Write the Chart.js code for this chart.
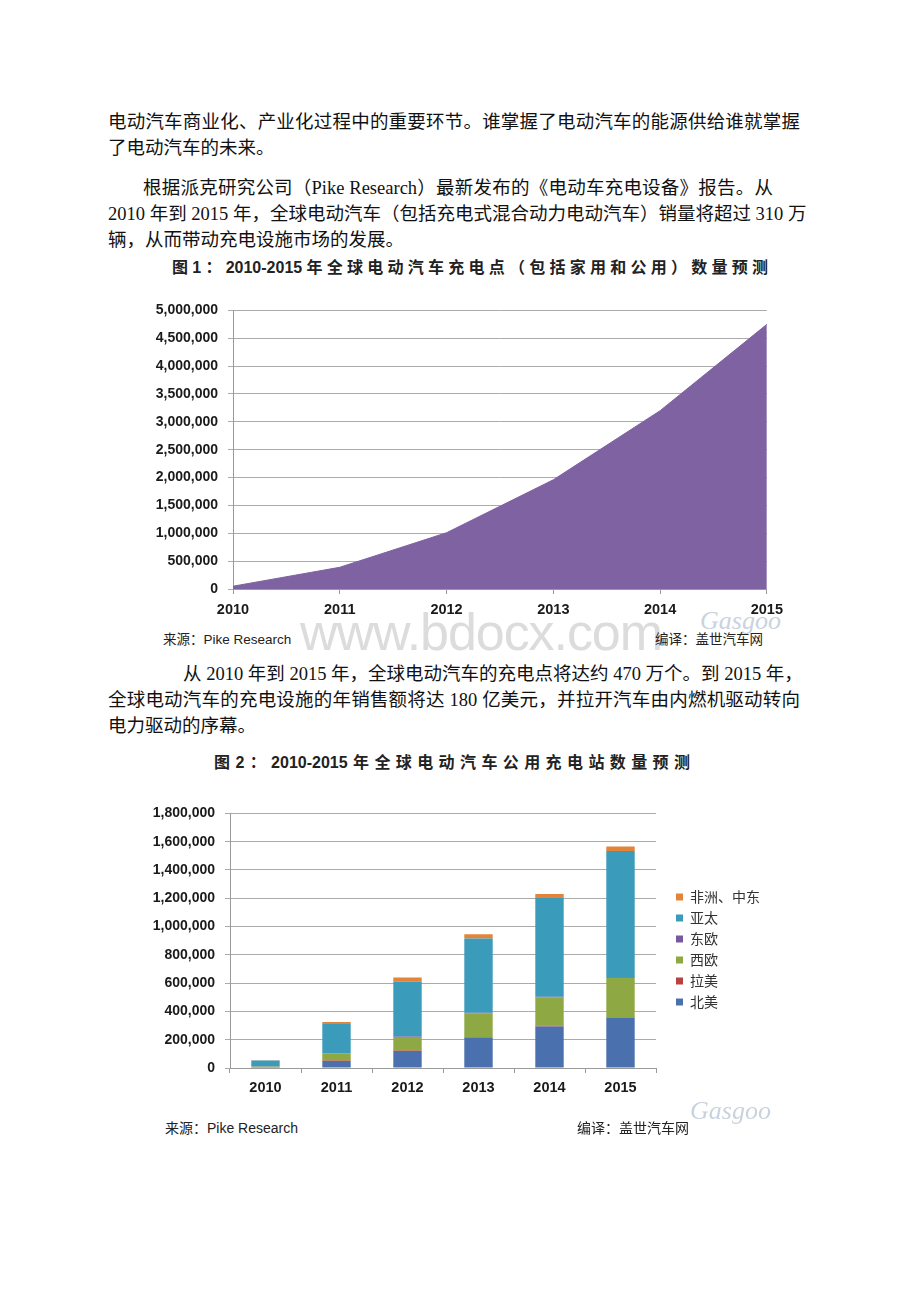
<!DOCTYPE html>
<html>
<head>
<meta charset="utf-8">
<script src="https://cdn.jsdelivr.net/npm/chart.js@4/dist/chart.umd.min.js"></script>
<style>
  body { margin: 0; width: 920px; height: 1302px; background: #fff; position: relative; overflow: hidden;
         font-family: 'Liberation Serif', 'Noto Sans CJK SC', serif; }
  .ln { position: absolute; font-size: 18.5px; line-height: 26px; color: #111; white-space: nowrap; }
  .j { text-align: justify; text-align-last: justify; }
  .ttl { position: absolute; font-family: 'Liberation Sans', 'Noto Sans CJK SC', sans-serif; font-weight: bold;
         font-size: 16px; line-height: 20px; color: #222; white-space: nowrap;
         text-align: justify; text-align-last: justify; }
  .src { position: absolute; font-family: 'Liberation Sans', 'Noto Sans CJK SC', sans-serif;
         font-size: 13.5px; line-height: 18px; color: #222; white-space: nowrap; }
  .wm { position: absolute; font-family: 'Liberation Sans', sans-serif; color: #dcdcdc; white-space: nowrap; }
  .logo { position: absolute; font-family: 'Liberation Serif', serif; color: #c9d3df; white-space: nowrap; }
  canvas { position: absolute; }
</style>
</head>
<body>

<div class="ln j" style="left:108px;top:109px;width:692px">电动汽车商业化、产业化过程中的重要环节。谁掌握了电动汽车的能源供给谁就掌握</div>
<div class="ln" style="left:108px;top:135px">了电动汽车的未来。</div>

<div class="ln j" style="left:143px;top:175px;width:630px">根据派克研究公司（Pike Research）最新发布的《电动车充电设备》报告。从</div>
<div class="ln j" style="left:108px;top:201px;width:692px">2010 年到 2015 年，全球电动汽车（包括充电式混合动力电动汽车）销量将超过 310 万</div>
<div class="ln" style="left:108px;top:227px">辆，从而带动充电设施市场的发展。</div>

<div class="ttl" style="left:172px;top:258px;width:596px">图1：2010-2015年全球电动汽车充电点（包括家用和公用）数量预测</div>

<div class="wm" data-w="362" style="left:300px;top:602px;font-size:52px;line-height:60px">www.bdocx.com</div>
<div class="logo" style="left:700px;top:606px;font-size:26px;font-style:italic">Gasgoo</div>

<canvas id="c1" width="650" height="333" style="left:140px;top:292px"></canvas>

<div class="src" style="left:163px;top:631px">来源：Pike Research</div>
<div class="src" style="left:655px;top:631px">编译：盖世汽车网</div>

<div class="ln j" style="left:183px;top:661px;width:617px">从 2010 年到 2015 年，全球电动汽车的充电点将达约 470 万个。到 2015 年，</div>
<div class="ln j" style="left:108px;top:687px;width:692px">全球电动汽车的充电设施的年销售额将达 180 亿美元，并拉开汽车由内燃机驱动转向</div>
<div class="ln" style="left:108px;top:713px">电力驱动的序幕。</div>

<div class="ttl" style="left:214px;top:753px;width:476px">图2：2010-2015年全球电动汽车公用充电站数量预测</div>

<canvas id="c2" width="660" height="303" style="left:140px;top:795px"></canvas>

<div class="logo" style="left:690px;top:1096px;font-size:26px;font-style:italic">Gasgoo</div>
<div class="src" style="left:165px;top:1119px;font-size:14px">来源：Pike Research</div>
<div class="src" style="left:577px;top:1119px;font-size:14px">编译：盖世汽车网</div>

<script>
// data
const years = ['2010', '2011', '2012', '2013', '2014', '2015'];
const chargePoints = [50000, 390000, 1010000, 1960000, 3200000, 4750000];

const regions = ['北美', '拉美', '西欧', '东欧', '亚太', '非洲、中东'];
const northAmerica = [8000, 50000, 120000, 215000, 293000, 355000];
const latinAmerica = [1000, 3000, 3000, 5000, 6000, 3000];
const westEurope = [3000, 48000, 97000, 166000, 200000, 278000];
const eastEurope = [1000, 2000, 3000, 4000, 5000, 5000];
const asiaPacific = [40000, 208000, 389000, 525000, 704000, 893000];
const africaMidEast = [2000, 14000, 28000, 30000, 23000, 32000];
const regionColors = ['#4a70ad', '#b8433e', '#8ea843', '#7759a0', '#3b9bbb', '#e2853a'];

// stretch the watermark to its measured width
document.querySelectorAll('[data-w]').forEach(el => {
  const n = el.textContent.length;
  const w = el.getBoundingClientRect().width;
  el.style.letterSpacing = ((+el.dataset.w - w) / n) + 'px';
});

const fmt = v => v.toLocaleString('en-US');
const tickFont = size => ({ family: "'Liberation Sans', Arial, sans-serif", size: size, weight: 'bold' });

// chart 1: area
new Chart(document.getElementById('c1'), {
  type: 'line',
  data: {
    labels: years,
    datasets: [{
      data: chargePoints,
      fill: 'origin',
      backgroundColor: '#7f62a1',
      borderColor: '#7f62a1',
      borderWidth: 1,
      pointRadius: 0,
      tension: 0
    }]
  },
  options: {
    responsive: false,
    animation: false,
    layout: { padding: { top: 13, right: 17 } },
    plugins: { legend: { display: false }, tooltip: { enabled: false } },
    scales: {
      x: {
        offset: false,
        grid: { drawOnChartArea: false, tickLength: 5, color: '#9a9a9a' },
        border: { color: '#9a9a9a' },
        ticks: { font: tickFont(14.5), color: '#1a1a1a', padding: 7, maxRotation: 0 },
        afterFit(s) { s.height = 36; }
      },
      y: {
        min: 0,
        max: 5000000,
        ticks: { stepSize: 500000, callback: fmt, font: tickFont(14), color: '#1a1a1a', padding: 10 },
        grid: { color: '#ababab', tickLength: 5 },
        border: { color: '#9a9a9a' },
        afterFit(s) { s.width = 93; }
      }
    }
  }
});

// chart 2: stacked bars
const regionData = [northAmerica, latinAmerica, westEurope, eastEurope, asiaPacific, africaMidEast];

new Chart(document.getElementById('c2'), {
  type: 'bar',
  data: {
    labels: years,
    datasets: regions.map((name, i) => ({
      label: name,
      data: regionData[i],
      backgroundColor: regionColors[i],
      categoryPercentage: 0.8,
      barPercentage: 0.5
    }))
  },
  options: {
    responsive: false,
    animation: false,
    layout: { padding: { top: 12, right: 43 } },
    plugins: {
      tooltip: { enabled: false },
      legend: {
        position: 'right',
        reverse: true,
        labels: {
          boxWidth: 7,
          boxHeight: 7,
          padding: 7,
          color: '#333',
          font: { family: "'Noto Sans CJK SC', sans-serif", size: 14 }
        }
      }
    },
    scales: {
      x: {
        stacked: true,
        grid: { drawOnChartArea: false, tickLength: 5, color: '#9a9a9a' },
        border: { color: '#9a9a9a' },
        ticks: { font: tickFont(14.5), color: '#1a1a1a', padding: 6 },
        afterFit(s) { s.height = 30; }
      },
      y: {
        stacked: true,
        min: 0,
        max: 1800000,
        ticks: { stepSize: 200000, callback: fmt, font: tickFont(14), color: '#1a1a1a', padding: 10 },
        grid: { color: '#ababab', tickLength: 5 },
        border: { color: '#9a9a9a' },
        afterFit(s) { s.width = 90; }
      }
    }
  },
  plugins: [{
    id: 'legendNudge',
    afterLayout(c) {
      c.legend.left += 13; c.legend.right += 13;
      c.legend.top -= 3; c.legend.bottom -= 3;
    }
  }]
});
</script>
</body>
</html>
